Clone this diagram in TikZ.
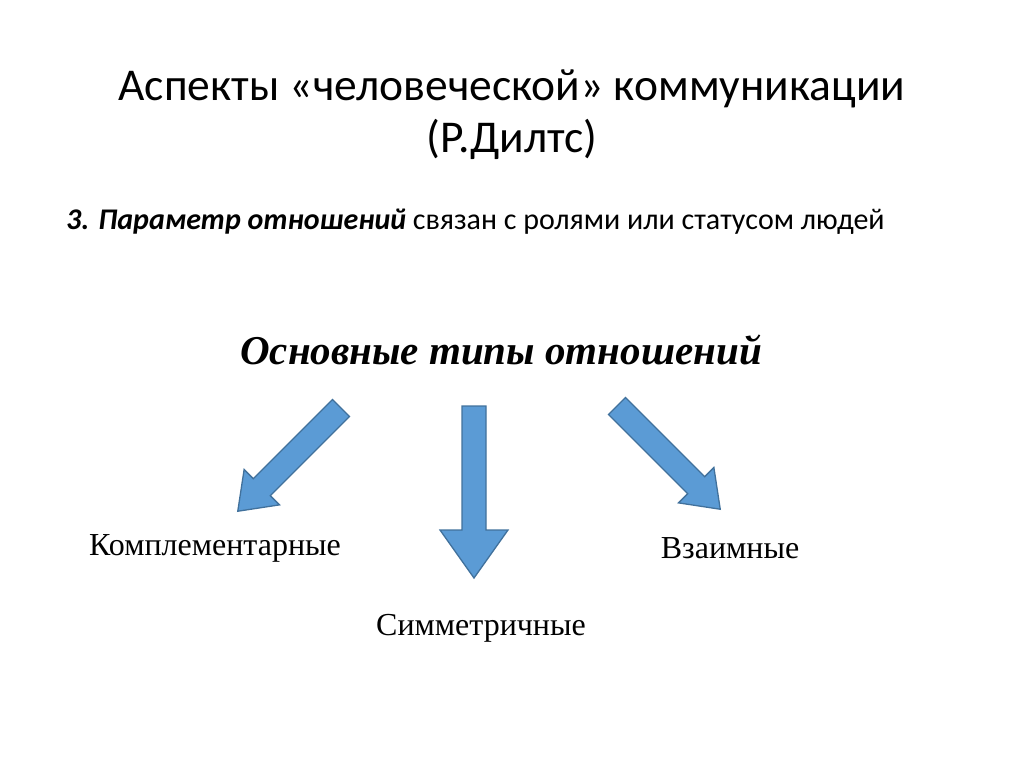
\documentclass[tikz,border=0pt]{standalone}
\usepackage{fontspec}
\setmainfont{Liberation Serif}
\newfontfamily\calib{Carlito}
\tikzset{x=1pt,y=1pt,
 blockarrow/.style={fill={rgb,255:red,91;green,155;blue,213},draw={rgb,255:red,65;green,113;blue,156},line width=1.3pt,line join=miter},
 lbl/.style={font=\fontsize{32}{36}\selectfont,inner sep=0pt}}
\newcommand{\barrow}[6]{% x,y,angle,length,headlen,headhalf
 \begin{scope}[shift={(#1,#2)},rotate=#3]
 \draw[blockarrow] (0,-12) -- (#4-#5,-12) -- (#4-#5,-#6) -- (#4,0) -- (#4-#5,#6) -- (#4-#5,12) -- (0,12) -- cycle;
 \end{scope}}
\begin{document}
\begin{tikzpicture}
\useasboundingbox (0,0) rectangle (1024,-767);
\node[inner sep=0pt,align=center,font=\calib\fontsize{45.5}{52}\selectfont] (title) at (512,-115) {Аспекты «человеческой» коммуникации\\(Р.Дилтс)};
\node[inner sep=0pt,anchor=west,font=\calib\fontsize{30}{34}\selectfont] (sub) at (66,-222) {\textbf{\textit{3. Параметр отношений}} связан с ролями или статусом людей};
\node[inner sep=0pt,font=\bfseries\itshape\fontsize{41}{46}\selectfont] (head) at (501,-350) {Основные типы отношений};
\node[lbl] (k) at (215,-548) {Комплементарные};
\node[lbl] (v) at (730,-548) {Взаимные};
\node[lbl] (s) at (481,-628) {Симметричные};
\barrow{474}{-406}{-90}{172}{48}{34}
\barrow{341}{-408}{-135}{146}{34}{25}
\barrow{617}{-406}{-45}{146}{34}{25}
\end{tikzpicture}
\end{document}
